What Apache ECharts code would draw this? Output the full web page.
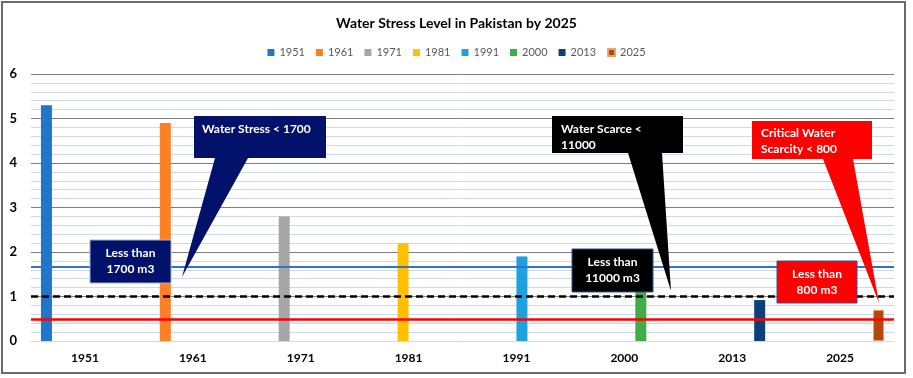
<!DOCTYPE html>
<html>
<head>
<meta charset="utf-8" />
<script src="https://cdn.jsdelivr.net/npm/echarts@6/dist/echarts.min.js"></script>
<style>
  html, body { margin: 0; padding: 0; background: #fff; }
  #chart { width: 913px; height: 378px; }
</style>
</head>
<body>
<div id="chart"></div>
<script>
// per capita water availability (thousand m3)
const years = ["1951", "1961", "1971", "1981", "1991", "2000", "2013", "2025"];
const availability = [5.3, 4.9, 2.8, 2.2, 1.9, 1.2, 0.92, 0.7];
const barColors = ["#1f76cb", "#ff7f27", "#a6a6a6", "#ffc000", "#1fa1e0", "#3fae46", "#0d3f78", "#b4470b"];
// water stress / scarce / critical levels
const levelValues = [1.66, 1.0, 0.5];

const FONT = "Lato";

const chart = echarts.init(document.getElementById("chart"));

// each year is its own series, with a value only in its own category
const barSeries = years.map((year, i) => ({
  name: year,
  type: "bar",
  barWidth: 11,
  barGap: "0%",
  itemStyle: {
    color: barColors[i],
    borderColor: i === 7 ? "#e9a36f" : barColors[i],
    borderWidth: i === 7 ? 1 : 0,
  },
  data: years.map((y, j) => (j === i ? availability[i] : null)),
}));

barSeries[7].markLine = {
  silent: true,
  symbol: "none",
  z: 6,
  label: { show: false },
  data: [
    { yAxis: levelValues[0], lineStyle: { color: "#2f74d0", width: 2, type: "solid" } },
    { yAxis: levelValues[1], lineStyle: { color: "#000", width: 2.5, type: [7, 4] } },
    { yAxis: levelValues[2], lineStyle: { color: "#ff0000", width: 2.5, type: "solid" } },
  ],
};

// speech-bubble shape: box plus a pointer from the box bottom to the tip
function bubble(x0, y0, x1, y1, b0, b1, tip, fill) {
  return {
    type: "polygon",
    z: 100,
    shape: {
      points: [[x0, y0], [x1, y0], [x1, y1], [b1, y1], tip, [b0, y1], [x0, y1]],
    },
    style: { fill: fill },
  };
}

function box(x0, y0, x1, y1, fill, stroke) {
  return {
    type: "rect",
    z: 100,
    shape: { x: x0, y: y0, width: x1 - x0, height: y1 - y0 },
    style: { fill: fill, stroke: stroke, lineWidth: 1 },
  };
}

function label(text, x, y, align) {
  return {
    type: "text",
    z: 101,
    style: {
      text: text,
      x: x,
      y: y,
      fill: "#fff",
      font: "bold 12px " + FONT,
      align: align || "left",
      verticalAlign: "top",
      lineHeight: 16,
    },
  };
}

const option = {
  animation: false,
  title: {
    text: "Water Stress Level in Pakistan by 2025",
    left: "center",
    top: 11,
    textStyle: { fontFamily: FONT, fontSize: 14, fontWeight: "bold", color: "#000" },
  },
  legend: {
    data: years,
    top: 42,
    left: "center",
    icon: "rect",
    itemWidth: 7,
    itemHeight: 7,
    itemGap: 11,
    textStyle: { fontFamily: FONT, fontSize: 11, color: "#595959" },
  },
  grid: {
    left: 31,
    right: 19,
    top: 74,
    bottom: 37,
  },
  xAxis: {
    type: "category",
    data: years,
    axisTick: { show: false },
    axisLine: { lineStyle: { color: "#d9d9d9", width: 1 } },
    axisLabel: {
      color: "#000",
      fontFamily: FONT,
      fontSize: 12,
      fontWeight: "bold",
      margin: 11,
    },
  },
  yAxis: {
    type: "value",
    min: 0,
    max: 6,
    interval: 1,
    axisLine: { show: false },
    axisTick: { show: false },
    axisLabel: {
      color: "#000",
      fontFamily: FONT,
      fontSize: 13,
      fontWeight: "bold",
      margin: 14,
    },
    splitLine: { lineStyle: { color: "#7f7f7f", width: 1 } },
    minorTick: { show: false, splitNumber: 5 },
    minorSplitLine: { show: true, lineStyle: { color: "#c9daf0", width: 1 } },
  },
  series: barSeries,
  graphic: [
    // chart border
    {
      type: "rect",
      z: 0,
      shape: { x: 2, y: 2, width: 903, height: 371 },
      style: { fill: null, stroke: "#6b6b6b", lineWidth: 2 },
    },
    bubble(194, 116, 326, 158, 215, 248, [182, 277], "#02126b"),
    label("Water Stress < 1700", 202, 121),
    box(90, 240, 171, 283, "#02126b", "#9db3e0"),
    label("Less than\n1700 m3", 130.5, 245, "center"),

    bubble(552, 116, 683, 153, 628, 662, [671, 291], "#000"),
    label("Water Scarce <\n11000", 561, 121),
    box(572, 249, 653, 292, "#000", "#2f5597"),
    label("Less than\n11000 m3", 612.5, 254, "center"),

    bubble(752, 121, 872, 159, 823, 853, [879, 303], "#ff0000"),
    label("Critical Water\nScarcity < 800", 761, 125),
    box(777, 261, 857, 303, "#ff0000", "#2f5597"),
    label("Less than\n800 m3", 817, 266, "center"),
  ],
};

chart.setOption(option);
</script>
</body>
</html>
